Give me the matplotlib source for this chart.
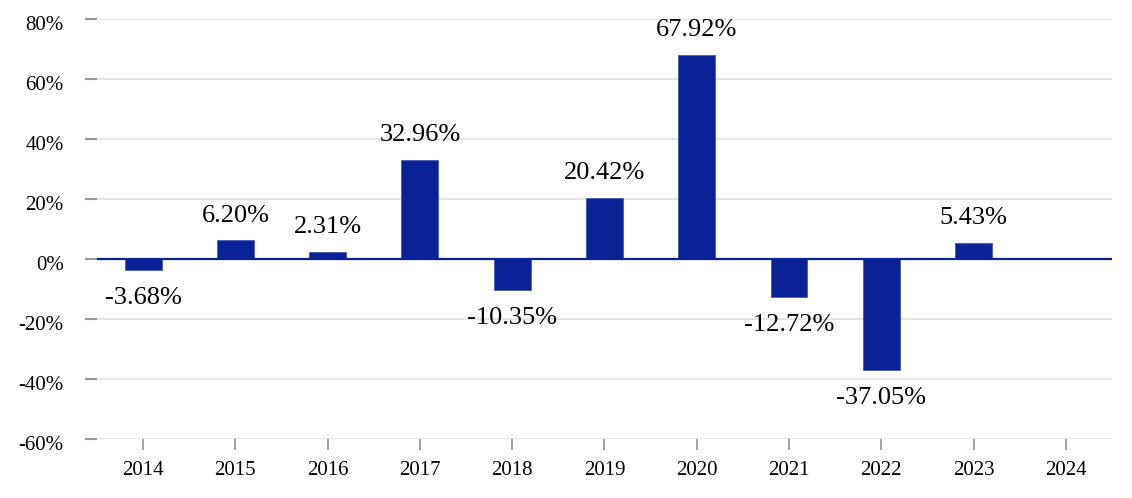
import matplotlib
matplotlib.use("Agg", force=True)
import matplotlib.pyplot as plt
import matplotlib.transforms as mtransforms
import numpy as np

plt.rcParams.update({
    "font.family": ["Liberation Serif", "DejaVu Serif"],
    "font.size": 15,
})

BAR_COLOR = "#0b2297"
GRID_COLOR = "#e3e3e3"
TICK_COLOR = "#9a9a9a"

years = ["2014", "2015", "2016", "2017", "2018", "2019", "2020", "2021", "2022", "2023", "2024"]
returns = [-3.68, 6.20, 2.31, 32.96, -10.35, 20.42, 67.92, -12.72, -37.05, 5.43, None]
yticks = [-60, -40, -20, 0, 20, 40, 60, 80]

fig = plt.figure(figsize=(11.32, 4.98), dpi=100)
ax = fig.add_axes([0.0857, 0.1185, 0.8966, 0.8433])

x = np.arange(len(years))
vals = [v if v is not None else 0 for v in returns]
ax.bar(x, vals, width=0.4, color=BAR_COLOR, edgecolor="#3a4fb0", linewidth=0.5, zorder=3)

ax.axhline(0, color=BAR_COLOR, linewidth=1.6, zorder=4)

for xi, v in zip(x, returns):
    if v is None:
        continue
    if v >= 0:
        ax.annotate(f"{v:.2f}%", (xi, v), xytext=(0, 10), textcoords="offset points",
                    ha="center", va="bottom", fontsize=19)
    else:
        ax.annotate(f"{v:.2f}%", (xi, v), xytext=(0, -12), textcoords="offset points",
                    ha="center", va="top", fontsize=19)

ax.set_xlim(-0.5, len(years) - 0.5)
ax.set_ylim(-60, 80)
ax.set_yticks(yticks)
ax.set_yticklabels([f"{t}%" for t in yticks])
ax.set_xticks(x)
ax.set_xticklabels(years)
ax.grid(axis="y", color=GRID_COLOR, linewidth=1.3, zorder=0)
ax.set_axisbelow(True)

for s in ax.spines.values():
    s.set_visible(False)
ax.tick_params(axis="y", length=9, width=1.5, color=TICK_COLOR, pad=15, labelsize=15)
ax.tick_params(axis="x", length=8, width=1.3, color=TICK_COLOR, pad=8, labelsize=15)

# y labels sit a little below their tick marks in the original
shift = mtransforms.ScaledTranslation(0, -3 / 72, fig.dpi_scale_trans)
for lab in ax.get_yticklabels():
    lab.set_transform(lab.get_transform() + shift)

fig.savefig("out.png", dpi=100)
